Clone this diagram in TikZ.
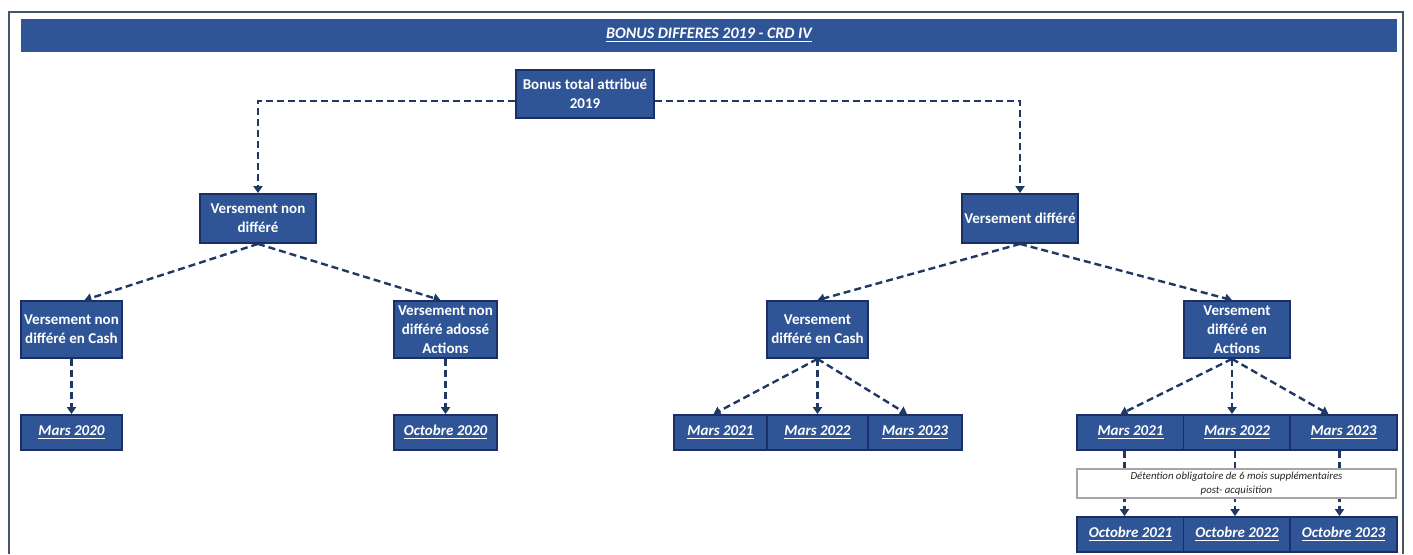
\documentclass[tikz,border=0pt]{standalone}
\usepackage{fontspec}
\setmainfont{Carlito}
\usetikzlibrary{arrows.meta}
\definecolor{boxblue}{HTML}{2F5597}
\definecolor{boxline}{HTML}{1B2F66}
\definecolor{linknavy}{HTML}{203864}
\definecolor{framegray}{HTML}{44546A}
\tikzset{
  bluebox/.style={draw=boxline, line width=0.9pt, fill=boxblue, text=white, align=center, inner sep=0pt,
    font=\fontsize{7.5}{9.5}\selectfont\bfseries},
  datebox/.style={bluebox, minimum height=17.5pt, font=\fontsize{7.5}{9.5}\selectfont\bfseries\itshape},
  link/.style={linknavy, line width=1.2pt, dash pattern=on 3.5pt off 2pt},
  arr/.style={link, -{Triangle[width=4.5pt,length=3.5pt]}}
}
\begin{document}
\begin{tikzpicture}[x=0.5pt,y=-0.5pt]
\useasboundingbox (0,0) rectangle (1413,554);
\draw[framegray,line width=1pt] (9,554) -- (9,12) -- (1403,12) -- (1403,554);
\node[fill=boxblue,minimum width=688pt,minimum height=16.5pt,inner sep=0pt,text=white,
  font=\fontsize{8}{10}\selectfont\bfseries\itshape] (title) at (709,35.5) {\underline{BONUS DIFFERES 2019 - CRD IV}};
\node[bluebox,minimum width=69pt,minimum height=24pt] (root) at (585,94) {Bonus total attribué\\2019};
\node[bluebox,minimum width=58pt,minimum height=24.5pt] (vnd) at (258,218.5) {Versement non\\différé};
\node[bluebox,minimum width=58pt,minimum height=24.5pt] (vd) at (1020,218.5) {Versement différé};
\node[bluebox,minimum width=50.5pt,minimum height=28.5pt] (vndc) at (71.5,329.5) {Versement non\\différé en Cash};
\node[bluebox,minimum width=51.5pt,minimum height=28.5pt] (vnda) at (445.5,329.5) {Versement non\\différé adossé\\Actions};
\node[bluebox,minimum width=50.5pt,minimum height=28.5pt] (vdc) at (817.5,329.5) {Versement\\différé en Cash};
\node[bluebox,minimum width=53pt,minimum height=28.5pt] (vda) at (1237,329.5) {Versement\\différé en\\Actions};
\node[datebox,minimum width=50.5pt] (m20) at (71.5,432.5) {\underline{Mars 2020}};
\node[datebox,minimum width=51.5pt] (o20) at (445.5,432.5) {\underline{Octobre 2020}};
\node[datebox,minimum width=46.5pt] (c21) at (720.5,432.5) {\underline{Mars 2021}};
\node[datebox,minimum width=50.5pt] (c22) at (817.5,432.5) {\underline{Mars 2022}};
\node[datebox,minimum width=47pt] (c23) at (915,432.5) {\underline{Mars 2023}};
\foreach \n/\x in {1/1130.5,2/1237,3/1343.5} {
    \node[datebox,minimum width=53.5pt] (a2\n) at (\x,432.5) {\underline{Mars 202\n}};
    \node[datebox,minimum width=53.5pt] (o2\n) at (\x,534.5) {\underline{Octobre 202\n}};
}
\draw[arr] ([yshift=-3.5pt]root.west) -| (vnd.north);
\draw[arr] ([yshift=-3.5pt]root.east) -| (vd.north);
\draw[arr] (vnd.south) -- ([xshift=6.5pt]vndc.north);
\draw[arr] (vnd.south) -- ([xshift=-2.5pt]vnda.north);
\draw[arr] (vndc.south) -- (m20.north);
\draw[arr] (vnda.south) -- (o20.north);
\draw[arr] (vd.south) -- (vdc.north);
\draw[arr] (vd.south) -- ([xshift=-2.5pt]vda.north);
\draw[arr] (vdc.south) -- ([xshift=-3.5pt]c21.north);
\draw[arr] (vdc.south) -- (c22.north);
\draw[arr] (vdc.south) -- ([xshift=-4pt]c23.north);
\draw[arr] ([xshift=-2.5pt]vda.south) -- ([xshift=-5pt]a21.north);
\draw[arr] ([xshift=-2.5pt]vda.south) -- ([xshift=-2.5pt]a22.north);
\draw[arr] ([xshift=-2.5pt]vda.south) -- ([xshift=-7.5pt]a23.north);
\draw[arr] ([xshift=-3pt]a21.south) -- ([xshift=-3pt]o21.north);
\draw[arr] ([xshift=-1pt]a22.south) -- ([xshift=-1pt]o22.north);
\draw[arr] ([xshift=-2pt]a23.south) -- ([xshift=-2pt]o23.north);
\node[draw=gray!70,fill=white,line width=0.6pt,minimum width=159.5pt,minimum height=14.5pt,inner sep=0pt,
  align=center,text=black!85,font=\fontsize{5.4}{7}\selectfont\itshape] (note) at (1236.5,483.5)
  {Détention obligatoire de 6 mois supplémentaires\\post- acquisition};
\end{tikzpicture}
\end{document}
